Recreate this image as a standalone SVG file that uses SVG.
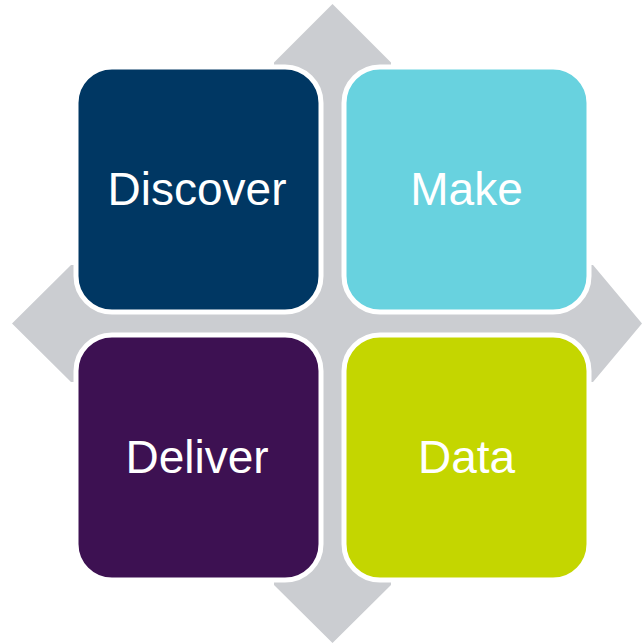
<svg xmlns="http://www.w3.org/2000/svg" width="642" height="644" viewBox="0 0 642 644">
<style>
.box{stroke:#ffffff;stroke-width:5}
.lbl{font-family:"Liberation Sans",Arial,sans-serif;font-size:46px;fill:#ffffff;text-anchor:middle}
</style>
<rect width="642" height="644" fill="#ffffff"/>
<g id="background">
<polygon fill="#CBCDD1" points="332.5,4 391,62.5 391,265 593,265 642,323.5 593,382 391,382 391,585 332.5,643 274,585 274,382 71,382 12,323.5 71,265 274,265 274,62.5"/>
</g>
<g id="discover">
<rect class="box" x="76" y="67" width="245" height="245" rx="36" fill="#003763"/>
<text class="lbl" x="197" y="205">Discover</text>
</g>
<g id="make">
<rect class="box" x="344" y="67" width="245" height="245" rx="36" fill="#68D2DF"/>
<text class="lbl" x="466.5" y="205">Make</text>
</g>
<g id="deliver">
<rect class="box" x="76" y="335" width="245" height="245" rx="36" fill="#3D1152"/>
<text class="lbl" x="197" y="473">Deliver</text>
</g>
<g id="data">
<rect class="box" x="344" y="335" width="245" height="245" rx="36" fill="#C4D600"/>
<text class="lbl" x="466.5" y="473">Data</text>
</g>
<g id="connectors"/>
</svg>
